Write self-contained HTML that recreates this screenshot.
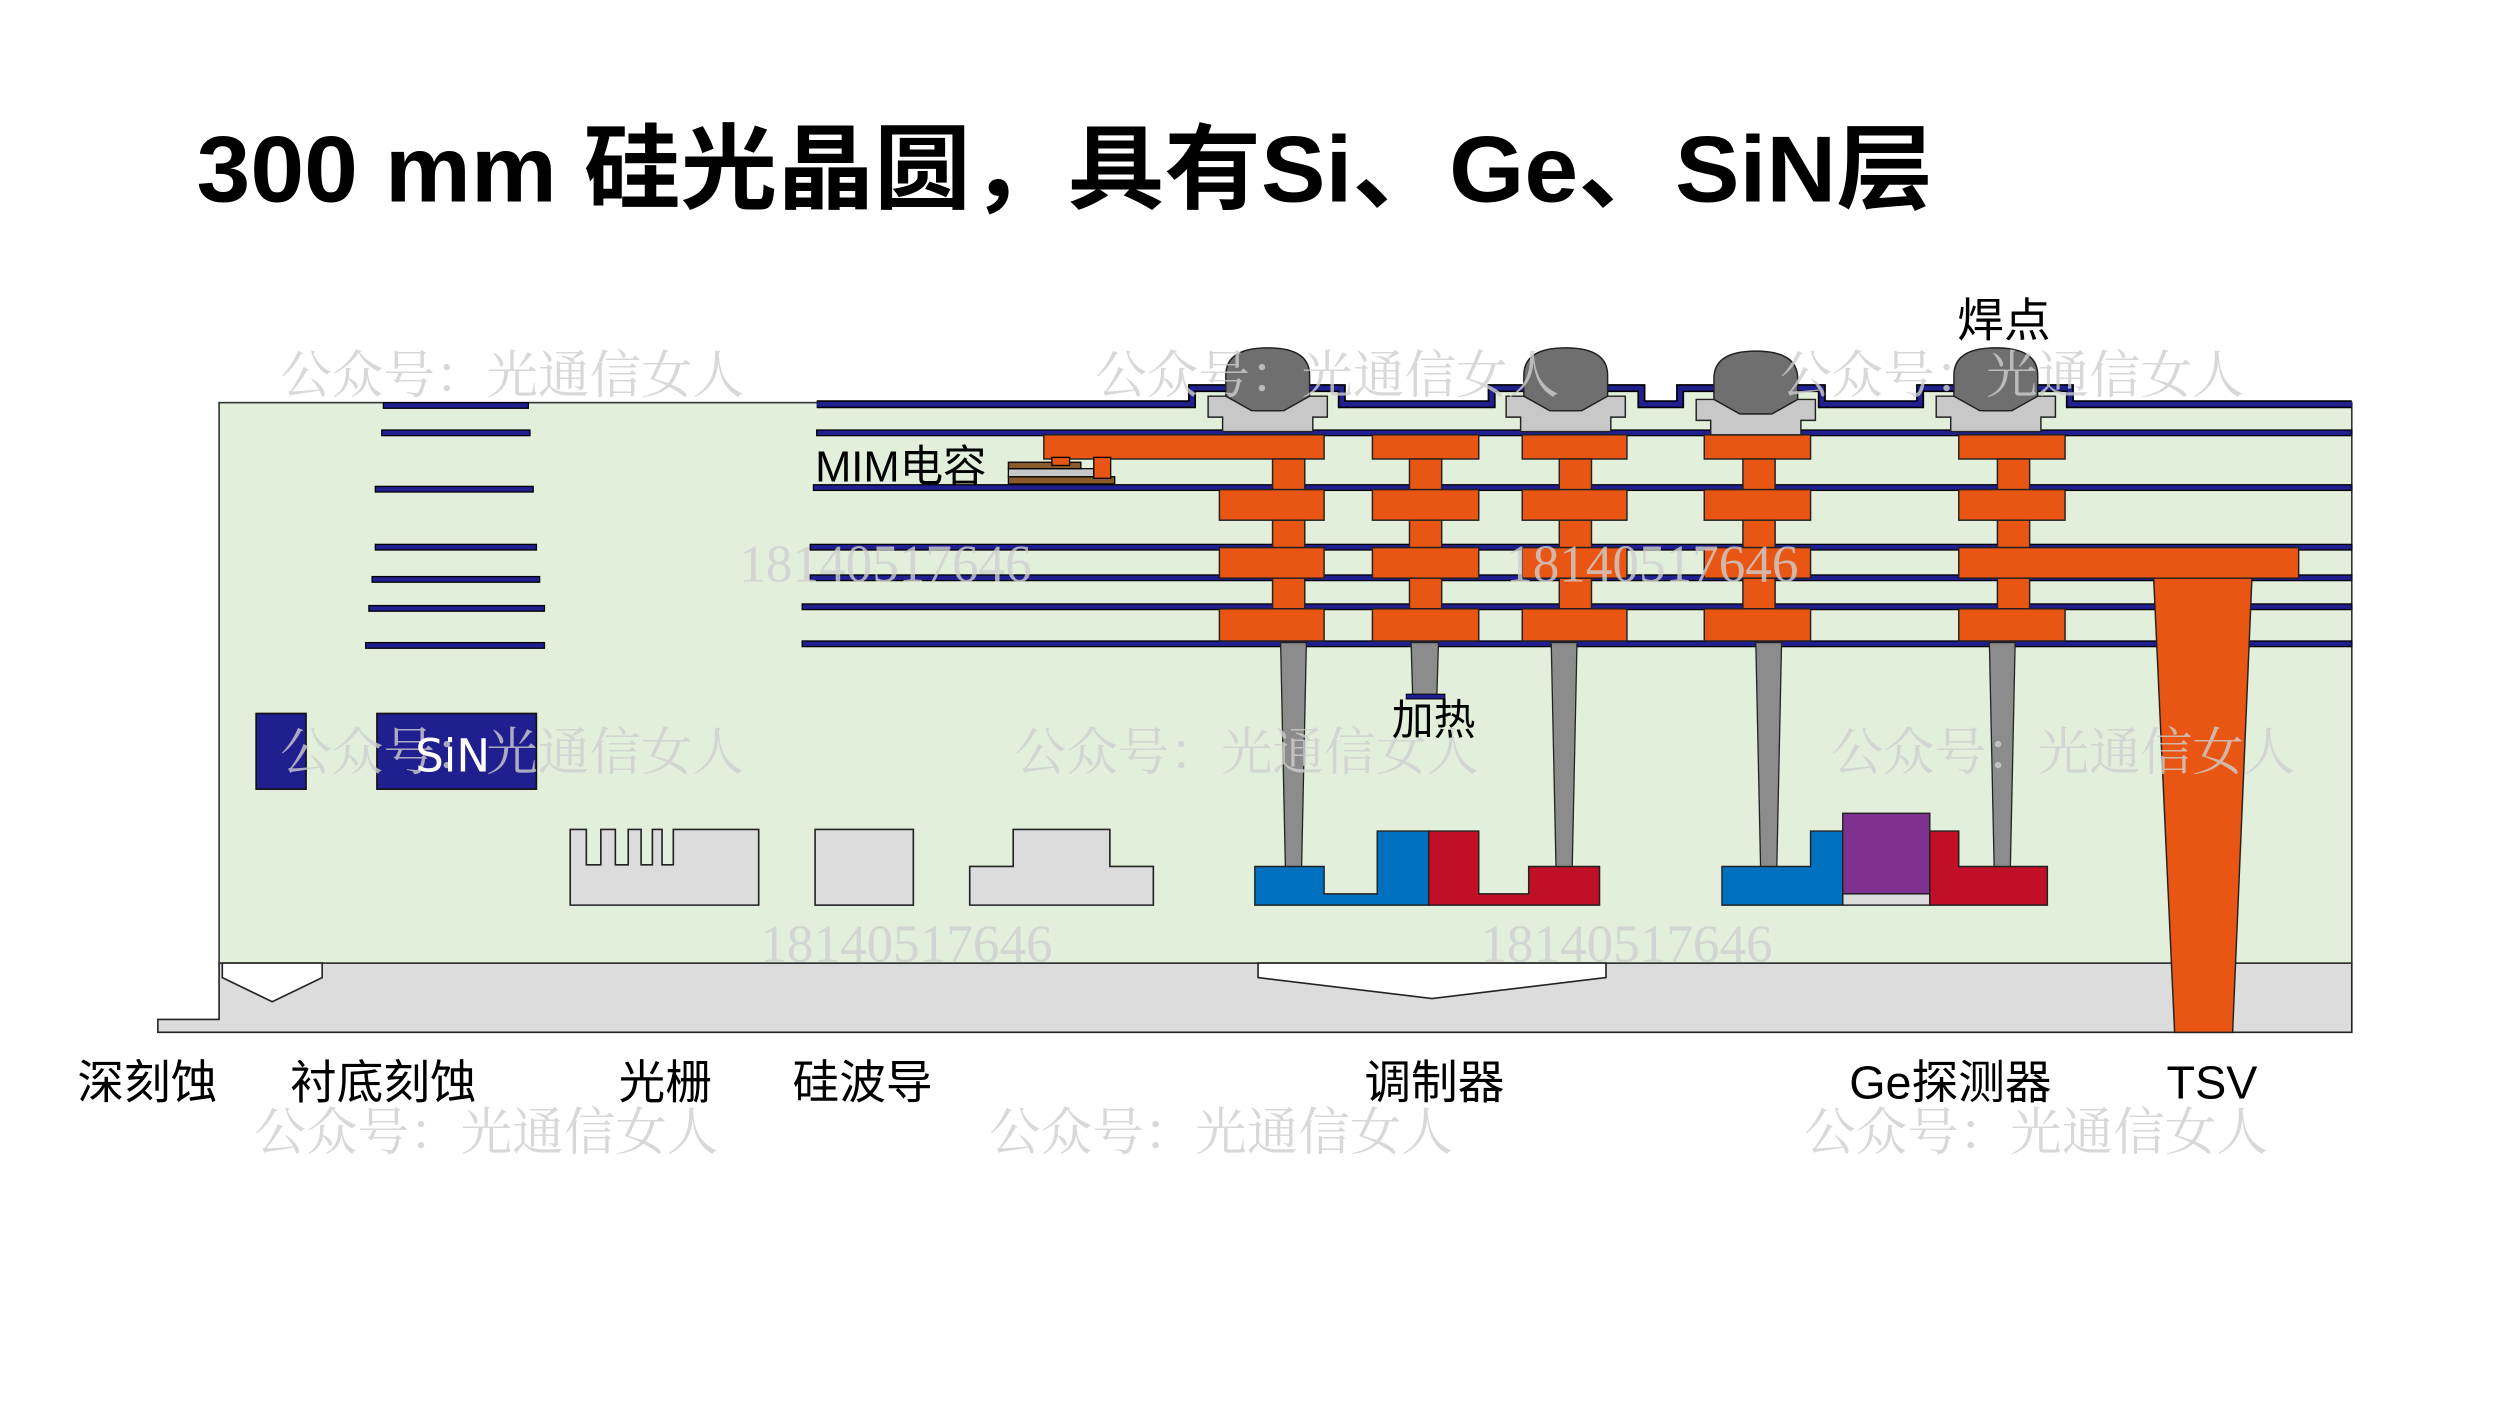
<!DOCTYPE html>
<html><head><meta charset="utf-8"><style>html,body{margin:0;padding:0;background:#fff}svg{display:block}</style></head>
<body>
<svg width="2500" height="1406" viewBox="0 0 1552 873" preserveAspectRatio="none" xmlns="http://www.w3.org/2000/svg">
<rect width="1552" height="873" fill="#fff"/>
<text x="122" y="125" font-family="'Liberation Sans','Noto Sans CJK SC',sans-serif" font-weight="bold" font-size="58" textLength="1078" lengthAdjust="spacingAndGlyphs" fill="#000">300 mm 硅光晶圆，具有Si、Ge、SiN层</text>

<!-- substrate -->
<path d="M136,598 H1460 V641 H98 V633 H136 Z" fill="#dcdcdc" stroke="#222" stroke-width="1"/>
<!-- green oxide -->
<rect x="136" y="250" width="1324" height="348" fill="#e2efda" stroke="#333" stroke-width="1"/>
<g fill="#e2efda"><rect x="740" y="241" width="93" height="10"/><rect x="926" y="241" width="93" height="10"/><rect x="1043" y="241" width="88" height="10"/><rect x="1192" y="241" width="93" height="10"/></g>
<!-- etches -->
<path d="M138,598 L138,607 L169,622 L200,607 L200,598 Z" fill="#fff" stroke="#222" stroke-width="1"/>
<path d="M781,598 L781,607 L889,620 L997,607 L997,598 Z" fill="#fff" stroke="#222" stroke-width="1"/>

<!-- left metal lines -->
<g fill="#1f1f8f" stroke="#000" stroke-width="0.8">
<rect x="238" y="250" width="90" height="3.5"/>
<rect x="237" y="267" width="92" height="3.5"/>
<rect x="233" y="302" width="98" height="3.5"/>
<rect x="233" y="338" width="100" height="3.5"/>
<rect x="231" y="358" width="104" height="3.5"/>
<rect x="229" y="376" width="109" height="3.5"/>
<rect x="227" y="399" width="111" height="3.5"/>
<!-- right lines -->
<rect x="507" y="267" width="953" height="3.5"/>
<rect x="505" y="301" width="955" height="3.5"/>
<rect x="503" y="338" width="957" height="3.5"/>
<rect x="503" y="357" width="957" height="3.5"/>
<rect x="498" y="375" width="962" height="3.5"/>
<rect x="498" y="398" width="962" height="3.5"/>
</g>
<polyline points="507,251 740,251 740,241 833,241 833,251 926,251 926,241 1019,241 1019,251 1043,251 1043,241 1131,241 1131,251 1192,251 1192,241 1285,241 1285,251 1460,251" fill="none" stroke="#000" stroke-width="5"/>
<polyline points="507,251 740,251 740,241 833,241 833,251 926,251 926,241 1019,241 1019,251 1043,251 1043,241 1131,241 1131,251 1192,251 1192,241 1285,241 1285,251 1460,251" fill="none" stroke="#1f1f8f" stroke-width="3"/>

<!-- tungsten contacts -->
<g fill="#8c8c8c" stroke="#222" stroke-width="0.8">
<polygon points="795,399 811,399 808,540 798,540"/>
<polygon points="876,399 893,399 892,432 877,432"/>
<polygon points="963,399 979,399 976,540 966,540"/>
<polygon points="1090,399 1106,399 1103,540 1093,540"/>
<polygon points="1235,399 1251,399 1248,540 1238,540"/>
</g>
<rect x="873" y="431" width="24" height="3" fill="#1f1f8f" stroke="#000" stroke-width="0.6"/>

<!-- orange metal stack -->
<g fill="#e95513" stroke="#222" stroke-width="0.9">
<rect x="648" y="270" width="174" height="15"/>
<rect x="852" y="270" width="66" height="15"/>
<rect x="945" y="270" width="65" height="15"/>
<rect x="1058" y="270" width="66" height="15"/>
<rect x="1216" y="270" width="66" height="15"/>
<rect x="790" y="285" width="20" height="19"/><rect x="875" y="285" width="20" height="19"/><rect x="968" y="285" width="20" height="19"/><rect x="1082" y="285" width="20" height="19"/><rect x="1240" y="285" width="20" height="19"/>
<rect x="757" y="304" width="65" height="19"/><rect x="852" y="304" width="66" height="19"/><rect x="945" y="304" width="65" height="19"/><rect x="1058" y="304" width="66" height="19"/><rect x="1216" y="304" width="66" height="19"/>
<rect x="790" y="323" width="20" height="17"/><rect x="875" y="323" width="20" height="17"/><rect x="968" y="323" width="20" height="17"/><rect x="1082" y="323" width="20" height="17"/><rect x="1240" y="323" width="20" height="17"/>
<rect x="757" y="340" width="65" height="19"/><rect x="852" y="340" width="66" height="19"/><rect x="945" y="340" width="65" height="19"/><rect x="1058" y="340" width="66" height="19"/><rect x="1216" y="340" width="211" height="19"/>
<rect x="790" y="359" width="20" height="19"/><rect x="875" y="359" width="20" height="19"/><rect x="968" y="359" width="20" height="19"/><rect x="1082" y="359" width="20" height="19"/><rect x="1240" y="359" width="20" height="19"/>
<rect x="757" y="378" width="65" height="20"/><rect x="852" y="378" width="66" height="20"/><rect x="945" y="378" width="65" height="20"/><rect x="1058" y="378" width="66" height="20"/><rect x="1216" y="378" width="66" height="20"/>
<polygon points="1337,359 1398,359 1386,641 1350,641"/>
</g>

<!-- MIM -->
<rect x="626" y="296" width="66" height="4.5" fill="#8b5a2b" stroke="#000" stroke-width="0.8"/>
<rect x="626" y="291" width="53" height="5" fill="#c8c8c8" stroke="#000" stroke-width="0.8"/>
<rect x="626" y="287" width="45" height="4" fill="#8b5a2b" stroke="#000" stroke-width="0.8"/>
<rect x="653" y="284" width="11" height="5" fill="#e95513" stroke="#000" stroke-width="0.8"/>
<rect x="679" y="284" width="10.5" height="13" fill="#e95513" stroke="#000" stroke-width="0.8"/>

<!-- bumps -->
<g stroke="#222" stroke-width="0.9">
<g transform="translate(787,0)"><path d="M-37,246 H-20 L-8,255 H8 L20,246 H37 V259 H28 V268 H-28 V259 H-37 Z" fill="#c8c8c8"/><path d="M-26,233 Q-26,216 0,216 Q26,216 26,233 V246 L10,255 H-10 L-26,246 Z" fill="#6f6f6f"/></g>
<g transform="translate(972,0)"><path d="M-37,246 H-20 L-8,255 H8 L20,246 H37 V259 H28 V268 H-28 V259 H-37 Z" fill="#c8c8c8"/><path d="M-26,233 Q-26,216 0,216 Q26,216 26,233 V246 L10,255 H-10 L-26,246 Z" fill="#6f6f6f"/></g>
<g transform="translate(1090,2)"><path d="M-37,246 H-20 L-8,255 H8 L20,246 H37 V259 H28 V268 H-28 V259 H-37 Z" fill="#c8c8c8"/><path d="M-26,233 Q-26,216 0,216 Q26,216 26,233 V246 L10,255 H-10 L-26,246 Z" fill="#6f6f6f"/></g>
<g transform="translate(1239,0)"><path d="M-37,246 H-20 L-8,255 H8 L20,246 H37 V259 H28 V268 H-28 V259 H-37 Z" fill="#c8c8c8"/><path d="M-26,233 Q-26,216 0,216 Q26,216 26,233 V246 L10,255 H-10 L-26,246 Z" fill="#6f6f6f"/></g>
</g>

<!-- SiN -->
<rect x="159" y="443" width="31" height="47" fill="#1f1f8f" stroke="#111" stroke-width="1"/>
<rect x="234" y="443" width="99" height="47" fill="#1f1f8f" stroke="#111" stroke-width="1"/>

<!-- grating, waveguides -->
<g fill="#dcdcdc" stroke="#222" stroke-width="1">
<path d="M354,515 H364 V537 H373 V515 H382 V537 H390 V515 H398 V537 H405 V515 H411 V537 H418 V515 H471 V562 H354 Z"/>
<rect x="506" y="515" width="61" height="47"/>
<path d="M602,538 H629 V515 H689 V538 H716 V562 H602 Z"/>
</g>

<!-- modulator -->
<g stroke="#222" stroke-width="0.9">
<path d="M779,538 H822 V555 H855 V516 H887 V562 H779 Z" fill="#0070c0"/>
<path d="M887,516 H918 V555 H949 V538 H993 V562 H887 Z" fill="#c00f26"/>
<path d="M1069,538 H1124 V516 H1144 V562 H1069 Z" fill="#0070c0"/>
<rect x="1144" y="505" width="54" height="50" fill="#7f3190"/>
<rect x="1144" y="555" width="54" height="7" fill="#dcdcdc"/>
<path d="M1198,516 H1216 V538 H1271 V562 H1198 Z" fill="#c00f26"/>
</g>

<!-- watermarks -->
<g font-family="'Liberation Serif','Noto Serif CJK SC',serif" font-size="32" fill="#cfcfcf" opacity="0.8">
<text x="174" y="244">公众号：光通信女人</text>
<text x="680" y="244">公众号：光通信女人</text>
<text x="1105" y="244">公众号：光通信女人</text>
<text x="174" y="478">公众号：光通信女人</text>
<text x="630" y="478">公众号：光通信女人</text>
<text x="1137" y="478">公众号：光通信女人</text>
<text x="158" y="714">公众号：光通信女人</text>
<text x="614" y="714">公众号：光通信女人</text>
<text x="1120" y="714">公众号：光通信女人</text>
<g font-size="33">
<text x="459" y="361">18140517646</text>
<text x="935" y="361">18140517646</text>
<text x="472" y="597">18140517646</text>
<text x="919" y="597">18140517646</text>
</g>
</g>
<text x="281" y="479" text-anchor="middle" font-family="'DejaVu Sans',sans-serif" font-size="28" fill="#fff">SiN</text>

<!-- labels -->
<g font-family="'Liberation Sans','Noto Sans CJK SC',sans-serif" font-size="29" fill="#000">
<text x="506" y="299" font-size="27">MIM电容</text>
<text x="864" y="456" font-size="26">加热</text>
<text x="1215" y="209">焊点</text>
<text x="48" y="682">深刻蚀</text>
<text x="180" y="682">衬底刻蚀</text>
<text x="384" y="682">光栅</text>
<text x="492" y="682">硅波导</text>
<text x="847" y="682">调制器</text>
<text x="1148" y="682">Ge探测器</text>
<text x="1345" y="682">TSV</text>
</g>
</svg>
</body></html>
